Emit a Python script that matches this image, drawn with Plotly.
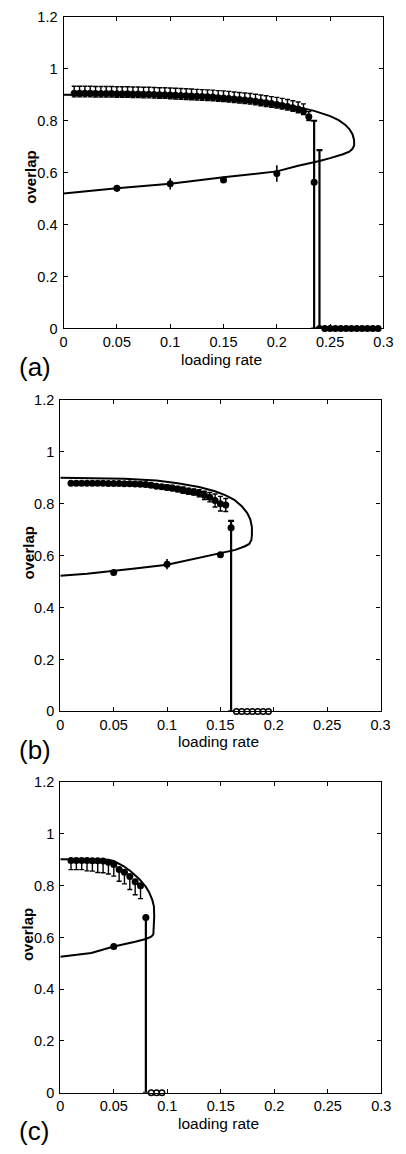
import plotly.graph_objects as go

# ---------------- Panel (a) ----------------
a_curve_x = [0.000, 0.040, 0.080, 0.120, 0.150, 0.180, 0.200, 0.220, 0.235, 0.250, 0.258, 0.264, 0.268, 0.271, 0.2725,
             0.2725, 0.271, 0.268, 0.262, 0.250, 0.240, 0.220, 0.200, 0.150, 0.100, 0.050, 0.000]
a_curve_y = [0.900, 0.899, 0.896, 0.890, 0.884, 0.874, 0.865, 0.852, 0.838, 0.818, 0.802, 0.785, 0.768, 0.748, 0.725,
             0.705, 0.692, 0.681, 0.671, 0.656, 0.645, 0.627, 0.605, 0.582, 0.557, 0.540, 0.520]

a_up_x = [0.010, 0.015, 0.020, 0.025, 0.030, 0.035, 0.040, 0.045, 0.050, 0.055, 0.060, 0.065, 0.070, 0.075, 0.080,
          0.085, 0.090, 0.095, 0.100, 0.105, 0.110, 0.115, 0.120, 0.125, 0.130, 0.135, 0.140, 0.145, 0.150, 0.155,
          0.160, 0.165, 0.170, 0.175, 0.180, 0.185, 0.190, 0.195, 0.200, 0.205, 0.210, 0.215, 0.220, 0.225, 0.230]
a_up_y = [0.906, 0.906, 0.906, 0.906, 0.905, 0.905, 0.905, 0.905, 0.904, 0.904, 0.904, 0.903, 0.903, 0.902, 0.902,
          0.901, 0.900, 0.900, 0.899, 0.898, 0.897, 0.896, 0.895, 0.894, 0.893, 0.892, 0.891, 0.889, 0.888, 0.886,
          0.884, 0.882, 0.880, 0.878, 0.875, 0.872, 0.869, 0.866, 0.863, 0.859, 0.855, 0.850, 0.845, 0.838, 0.815]
a_up_err_plus = [0.027, 0.027, 0.027, 0.027, 0.027, 0.027, 0.027, 0.027, 0.027, 0.027, 0.027, 0.027, 0.027, 0.027, 0.027,
                 0.027, 0.027, 0.027, 0.027, 0.027, 0.027, 0.027, 0.027, 0.027, 0.027, 0.027, 0.027, 0.027, 0.027, 0.027,
                 0.027, 0.027, 0.027, 0.027, 0.027, 0.027, 0.027, 0.027, 0.027, 0.027, 0.027, 0.027, 0.027, 0.027, 0.020]
a_up_err_minus = [0.014, 0.014, 0.014, 0.014, 0.014, 0.014, 0.014, 0.014, 0.014, 0.014, 0.014, 0.014, 0.014, 0.014, 0.014,
                  0.014, 0.014, 0.014, 0.014, 0.014, 0.014, 0.014, 0.014, 0.014, 0.014, 0.014, 0.014, 0.014, 0.014, 0.014,
                  0.014, 0.014, 0.014, 0.014, 0.014, 0.014, 0.014, 0.014, 0.014, 0.014, 0.014, 0.014, 0.014, 0.014, 0.014]
a_low_x = [0.050, 0.100, 0.150, 0.200]
a_low_y = [0.540, 0.557, 0.572, 0.597]
a_low_err = [0.013, 0.022, 0.010, 0.032]
a_drop_x = [0.235, 0.240]
a_drop_y = [0.563, 0.000]
a_drop_plus = [0.237, 0.687]
a_drop_minus = [0.563, 0.000]
a_zero_x = [0.245, 0.250, 0.255, 0.260, 0.265, 0.270, 0.275, 0.280, 0.285, 0.290, 0.295]
a_zero_y = [0, 0, 0, 0, 0, 0, 0, 0, 0, 0, 0]

# ---------------- Panel (b) ----------------
b_curve_x = [0.000, 0.030, 0.060, 0.090, 0.110, 0.130, 0.145, 0.155, 0.163, 0.170, 0.175, 0.178, 0.1795,
             0.1795, 0.179, 0.177, 0.173, 0.164, 0.150, 0.130, 0.100, 0.070, 0.050, 0.025, 0.000]
b_curve_y = [0.900, 0.899, 0.896, 0.889, 0.879, 0.864, 0.848, 0.832, 0.815, 0.790, 0.765, 0.740, 0.710,
             0.680, 0.660, 0.645, 0.636, 0.622, 0.610, 0.590, 0.565, 0.550, 0.540, 0.530, 0.522]

b_up_x = [0.010, 0.015, 0.020, 0.025, 0.030, 0.035, 0.040, 0.045, 0.050, 0.055, 0.060, 0.065, 0.070, 0.075, 0.080,
          0.085, 0.090, 0.095, 0.100, 0.105, 0.110, 0.115, 0.120, 0.125, 0.130, 0.135, 0.140, 0.145, 0.150, 0.155]
b_up_y = [0.879, 0.879, 0.879, 0.879, 0.879, 0.879, 0.879, 0.878, 0.878, 0.878, 0.877, 0.877, 0.876, 0.875, 0.874,
          0.871, 0.867, 0.865, 0.862, 0.860, 0.856, 0.852, 0.848, 0.845, 0.840, 0.832, 0.825, 0.812, 0.800, 0.795]
b_up_err = [0.006, 0.006, 0.006, 0.006, 0.006, 0.006, 0.006, 0.006, 0.006, 0.006, 0.006, 0.006, 0.006, 0.006, 0.008,
            0.008, 0.008, 0.008, 0.010, 0.010, 0.010, 0.012, 0.012, 0.012, 0.014, 0.016, 0.018, 0.025, 0.028, 0.025]
b_low_x = [0.050, 0.100, 0.150]
b_low_y = [0.535, 0.567, 0.603]
b_low_err = [0.008, 0.020, 0.008]
b_drop_x = [0.160]
b_drop_y = [0.707]
b_drop_plus = [0.027]
b_drop_minus = [0.707]
b_zero_x = [0.165, 0.170, 0.175, 0.180, 0.185, 0.190, 0.195]
b_zero_y = [0, 0, 0, 0, 0, 0, 0]

# ---------------- Panel (c) ----------------
c_curve_x = [0.000, 0.020, 0.044, 0.050, 0.059, 0.066, 0.074, 0.080, 0.083, 0.086, 0.0875,
             0.0878, 0.0875, 0.087, 0.085, 0.080, 0.070, 0.050, 0.029, 0.015, 0.000]
c_curve_y = [0.902, 0.902, 0.900, 0.895, 0.876, 0.855, 0.825, 0.795, 0.775, 0.745, 0.720,
             0.680, 0.625, 0.612, 0.603, 0.594, 0.583, 0.565, 0.540, 0.532, 0.525]

c_up_x = [0.010, 0.015, 0.020, 0.025, 0.030, 0.035, 0.040, 0.045, 0.050, 0.055, 0.060, 0.065, 0.070, 0.075]
c_up_y = [0.897, 0.897, 0.897, 0.897, 0.896, 0.896, 0.895, 0.890, 0.882, 0.862, 0.852, 0.835, 0.815, 0.800]
c_up_err_plus = [0.004, 0.004, 0.004, 0.004, 0.004, 0.004, 0.004, 0.004, 0.004, 0.004, 0.004, 0.004, 0.004, 0.004]
c_up_err_minus = [0.035, 0.035, 0.035, 0.040, 0.040, 0.045, 0.045, 0.045, 0.045, 0.045, 0.045, 0.050, 0.050, 0.050]
c_low_x = [0.050]
c_low_y = [0.565]
c_low_err = [0.008]
c_drop_x = [0.080]
c_drop_y = [0.677]
c_drop_plus = [0.000]
c_drop_minus = [0.677]
c_zero_x = [0.085, 0.090, 0.095]
c_zero_y = [0, 0, 0]

x_tickvals = [0, 0.05, 0.1, 0.15, 0.2, 0.25, 0.3]
x_ticktext = ["0", "0.05", "0.1", "0.15", "0.2", "0.25", "0.3"]
y_tickvals = [0, 0.2, 0.4, 0.6, 0.8, 1.0, 1.2]
y_ticktext = ["0", "0.2", "0.4", "0.6", "0.8", "1", "1.2"]
panel_labels = ["(a)", "(b)", "(c)"]
x_title = "loading rate"
y_title = "overlap"

FONT = "Liberation Sans, Arial, sans-serif"
W, H = 406, 1154

panels = [
    dict(cx=a_curve_x, cy=a_curve_y, ux=a_up_x, uy=a_up_y, up=a_up_err_plus, um=a_up_err_minus,
         lx=a_low_x, ly=a_low_y, le=a_low_err, dx=a_drop_x, dy=a_drop_y, dp=a_drop_plus, dm=a_drop_minus,
         zx=a_zero_x, zy=a_zero_y, zfill="black", px=(61.7, 393.0), py=(9.0, 325.0), ytx=28, yty=172),
    dict(cx=b_curve_x, cy=b_curve_y, ux=b_up_x, uy=b_up_y, up=b_up_err, um=b_up_err,
         lx=b_low_x, ly=b_low_y, le=b_low_err, dx=b_drop_x, dy=b_drop_y, dp=b_drop_plus, dm=b_drop_minus,
         zx=b_zero_x, zy=b_zero_y, zfill="white", px=(58.3, 390.0), py=(397.3, 713.3), ytx=25, yty=553),
    dict(cx=c_curve_x, cy=c_curve_y, ux=c_up_x, uy=c_up_y, up=c_up_err_plus, um=c_up_err_minus,
         lx=c_low_x, ly=c_low_y, le=c_low_err, dx=c_drop_x, dy=c_drop_y, dp=c_drop_plus, dm=c_drop_minus,
         zx=c_zero_x, zy=c_zero_y, zfill="white", px=(58.3, 390.7), py=(785.0, 1100.0), ytx=25, yty=940),
]

fig = go.Figure()
layout = dict(width=W, height=H, margin=dict(l=0, r=0, t=0, b=0),
              paper_bgcolor="white", plot_bgcolor="white", showlegend=False,
              font=dict(family=FONT, color="black", size=14))
annotations = []

for i, p in enumerate(panels):
    n = "" if i == 0 else str(i + 1)
    xa, ya = "x" + n, "y" + n
    fig.add_trace(go.Scatter(x=p["cx"], y=p["cy"], mode="lines", xaxis=xa, yaxis=ya,
                             line=dict(color="black", width=2), hoverinfo="skip"))
    fig.add_trace(go.Scatter(x=p["ux"], y=p["uy"], mode="markers", xaxis=xa, yaxis=ya,
                             marker=dict(color="black", size=7, symbol="circle"),
                             error_y=dict(type="data", array=p["up"], arrayminus=p["um"], symmetric=False,
                                          color="black", thickness=1.4, width=2.5)))
    fig.add_trace(go.Scatter(x=p["lx"], y=p["ly"], mode="markers", xaxis=xa, yaxis=ya,
                             marker=dict(color="black", size=7, symbol="circle"),
                             error_y=dict(type="data", array=p["le"], symmetric=True,
                                          color="black", thickness=1.6, width=0)))
    fig.add_trace(go.Scatter(x=p["dx"], y=p["dy"], mode="markers", xaxis=xa, yaxis=ya,
                             marker=dict(color="black", size=7, symbol="circle"),
                             error_y=dict(type="data", array=p["dp"], arrayminus=p["dm"], symmetric=False,
                                          color="black", thickness=2.2, width=3)))
    fig.add_trace(go.Scatter(x=p["zx"], y=p["zy"], mode="markers", xaxis=xa, yaxis=ya, cliponaxis=False,
                             marker=dict(color=p["zfill"], size=5.5, symbol="circle",
                                         line=dict(color="black", width=1.5))))

    x0, x1 = p["px"]
    y0, y1 = p["py"]
    common = dict(ticks="inside", ticklen=4, tickcolor="black", showline=True, linecolor="black",
                  linewidth=1.3, mirror="ticks", showgrid=False, zeroline=False,
                  tickfont=dict(family=FONT, size=14.5, color="black"))
    layout["xaxis" + n] = dict(domain=[x0 / W, x1 / W], anchor=ya, range=[0, 0.3],
                               tickvals=x_tickvals, ticktext=x_ticktext, ticklabelstandoff=0, **common)
    layout["yaxis" + n] = dict(domain=[1 - y1 / H, 1 - y0 / H], anchor=xa, range=[0, 1.2],
                               tickvals=y_tickvals, ticktext=y_ticktext, ticklabelstandoff=2, **common)
    annotations.append(dict(text=x_title, xref="paper", yref="paper",
                            x=((x0 + x1) / 2 - 2) / W, y=1 - (y1 + 31) / H, xanchor="center", yanchor="middle",
                            showarrow=False, font=dict(family=FONT, size=15.5, color="black")))
    annotations.append(dict(text="<b>" + y_title + "</b>", xref="paper", yref="paper", textangle=-90,
                            x=p["ytx"] / W, y=1 - p["yty"] / H, xanchor="center", yanchor="middle",
                            showarrow=False, font=dict(family=FONT, size=15, color="black")))
    annotations.append(dict(text=panel_labels[i], xref="paper", yref="paper",
                            x=13 / W, y=1 - (y1 + 39) / H, xanchor="left", yanchor="middle",
                            showarrow=False, font=dict(family=FONT, size=26, color="black")))

layout["annotations"] = annotations
fig.update_layout(**layout)
fig.write_html("out.html", config={"displayModeBar": False},
               post_script="document.body.style.margin='0px';")
